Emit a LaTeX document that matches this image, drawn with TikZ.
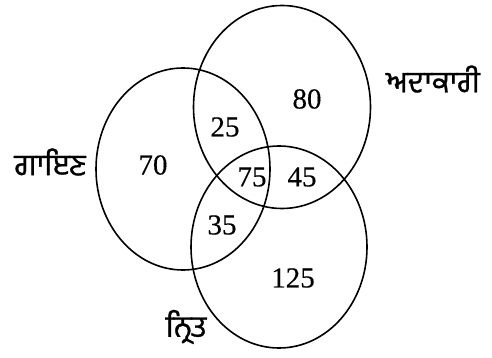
\documentclass[tikz,border=0pt]{standalone}
\usepackage{fontspec}
\usetikzlibrary{shapes.geometric}
\newfontfamily\gurfont[Script=Gurmukhi,FakeBold=1]{Hind Jalandhar}
\newfontfamily\numfont[FakeBold=0.3]{Liberation Serif}
\tikzset{
  venn/.style={draw=black, line width=1.6pt, ellipse, inner sep=0pt, minimum width=174pt, minimum height=202pt},
  num/.style={font=\numfont\fontsize{29}{29}\selectfont, inner sep=0pt},
  lbl/.style={font=\gurfont\fontsize{30}{30}\selectfont, inner sep=0pt}
}
\begin{document}
\begin{tikzpicture}[x=1pt,y=-1pt]
\useasboundingbox[fill=white] (0,0) rectangle (492,358);
\node[venn] (sing) at (183,169) {};
\node[venn, minimum width=177pt, minimum height=203pt] (act) at (282,107) {};
\node[venn, minimum width=176pt, minimum height=202pt] (dance) at (279,247) {};
\node[lbl] (lsing) at (50,162) {ਗਾਇਣ};
\node[lbl] (lact) at (433,79) {ਅਦਾਕਾਰੀ};
\node[lbl] (ldance) at (186,327) {ਨ੍ਰਿਤ};
\node[num] (n70) at (153,165) {70};
\node[num] (n25) at (225,127) {25};
\node[num] (n80) at (307,99) {80};
\node[num] (n75) at (252,177) {75};
\node[num] (n45) at (302,177) {45};
\node[num] (n35) at (222,225) {35};
\node[num] (n125) at (293,278) {125};
\end{tikzpicture}
\end{document}
